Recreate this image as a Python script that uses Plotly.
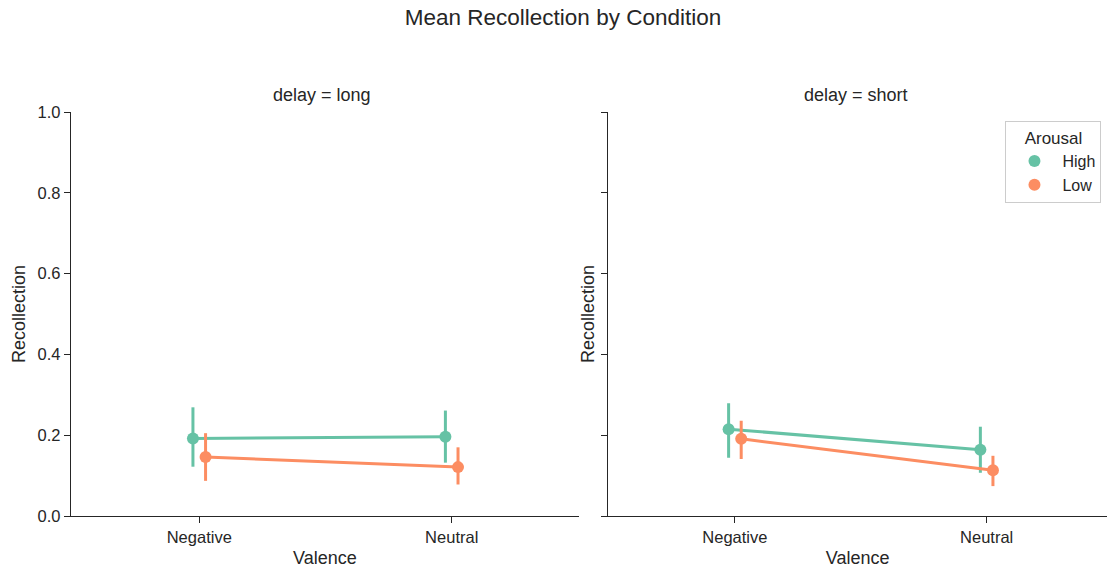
import plotly.graph_objects as go
from plotly.subplots import make_subplots

valence = ["Negative", "Neutral"]
delays = ["long", "short"]
arousal = ["High", "Low"]
colors = {"High": "#66c2a5", "Low": "#fc8d62"}

# means and CI bounds, [delay][arousal] -> per valence
mean = {
    "long": {"High": [0.192, 0.196], "Low": [0.146, 0.121]},
    "short": {"High": [0.215, 0.164], "Low": [0.191, 0.113]},
}
ci_hi = {
    "long": {"High": [0.269, 0.261], "Low": [0.205, 0.170]},
    "short": {"High": [0.279, 0.221], "Low": [0.236, 0.149]},
}
ci_lo = {
    "long": {"High": [0.122, 0.132], "Low": [0.087, 0.078]},
    "short": {"High": [0.144, 0.107], "Low": [0.141, 0.074]},
}
dodge = {"High": -0.025, "Low": 0.025}

FONT = "Liberation Sans, Arial, sans-serif"
TXT = "#262626"

fig = make_subplots(rows=1, cols=2, subplot_titles=[f"delay = {d}" for d in delays],
                    horizontal_spacing=0.03)

for ci, d in enumerate(delays, start=1):
    for a in arousal:
        xs = [i + dodge[a] for i in range(len(valence))]
        m = mean[d][a]
        fig.add_trace(go.Scatter(
            x=xs, y=m, mode="lines+markers", name=a, showlegend=False,
            line=dict(color=colors[a], width=3),
            marker=dict(color=colors[a], size=12),
            error_y=dict(type="data", symmetric=False,
                         array=[h - v for h, v in zip(ci_hi[d][a], m)],
                         arrayminus=[v - l for v, l in zip(m, ci_lo[d][a])],
                         color=colors[a], thickness=3, width=0),
            hoverinfo="x+y",
        ), row=1, col=ci)

for a in arousal:
    fig.add_trace(go.Scatter(x=[None], y=[None], mode="markers", name=a,
                             marker=dict(color=colors[a], size=12)), row=1, col=2)

axis_common = dict(showline=True, linecolor=TXT, linewidth=1.3, ticks="outside",
                   ticklen=6, tickwidth=1.3, tickcolor=TXT, showgrid=False,
                   zeroline=False, tickfont=dict(size=16.5, color=TXT, family=FONT))

fig.update_xaxes(**axis_common, tickvals=list(range(len(valence))), ticktext=valence,
                 title=dict(text="Valence", font=dict(size=18, color=TXT, family=FONT), standoff=6))
fig.update_xaxes(domain=[0, 0.4903], range=[-0.508, 1.504], row=1, col=1)
fig.update_xaxes(domain=[0.5186, 1.0], range=[-0.503, 1.478], row=1, col=2)

fig.update_yaxes(**axis_common, range=[0, 1], tickvals=[0, 0.2, 0.4, 0.6, 0.8, 1.0],
                 ticktext=["0.0", "0.2", "0.4", "0.6", "0.8", "1.0"],
                 title=dict(text="Recollection", font=dict(size=18, color=TXT, family=FONT)))
fig.update_yaxes(title_standoff=7, row=1, col=1)
fig.update_yaxes(showticklabels=False, title_standoff=1, row=1, col=2)

for ann in fig.layout.annotations:
    ann.font = dict(size=18, color=TXT, family=FONT)
    ann.yshift = 5

fig.update_layout(
    width=1107, height=571,
    margin=dict(l=71, r=0, t=112, b=55),
    paper_bgcolor="white", plot_bgcolor="white",
    font=dict(family=FONT, color=TXT),
    title=dict(text="Mean Recollection by Condition", x=563 / 1107, xanchor="center",
               y=1 - 17 / 571, yanchor="middle", font=dict(size=22.5, color=TXT, family=FONT)),
    legend=dict(x=0.902, y=0.978, xanchor="left", yanchor="top",
                bordercolor="#cccccc", borderwidth=1, bgcolor="white",
                title=dict(text="Arousal", side="top center", font=dict(size=17, color=TXT)),
                font=dict(size=16, color=TXT), itemwidth=46),
    showlegend=True,
)

fig.write_html("out.html", config={"displayModeBar": False},
               post_script="document.body.style.margin='0';")
